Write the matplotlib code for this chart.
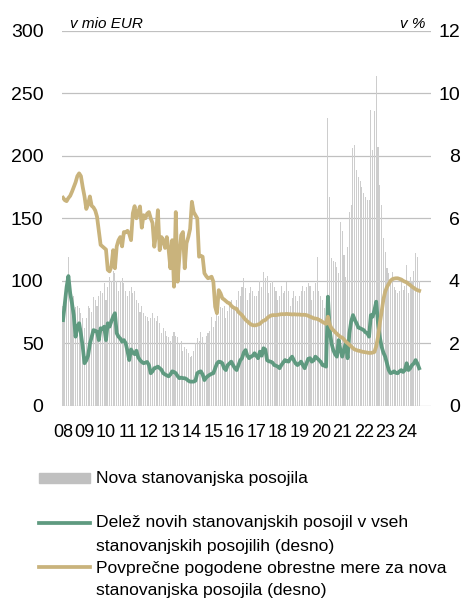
import numpy as np
import matplotlib.pyplot as plt
from matplotlib.lines import Line2D
from matplotlib.patches import Rectangle

plt.rcParams['font.family'] = ['Liberation Sans', 'DejaVu Sans']

# nova stanovanjska posojila, v mio EUR (mesečno, jan 2008 - avg 2024)
new_loans = [
    80, 85, 90, 119, 85, 82, 88, 79, 80, 78, 74, 70,      # 2008
    62, 70, 80, 78, 75, 87, 85, 80, 88, 92, 90, 98,       # 2009
    85, 95, 103, 100, 108, 106, 100, 92, 100, 102, 98, 92,  # 2010
    88, 92, 95, 90, 92, 85, 82, 75, 80, 74, 72, 71,       # 2011
    68, 70, 74, 70, 68, 72, 66, 58, 62, 60, 56, 55,       # 2012
    52, 56, 59, 56, 55, 50, 52, 44, 47, 45, 42, 39,       # 2013
    40, 44, 50, 54, 52, 59, 55, 50, 56, 58, 60, 71,       # 2014
    63, 68, 75, 72, 79, 78, 80, 70, 76, 82, 85, 80,       # 2015
    79, 85, 92, 88, 95, 102, 94, 85, 90, 95, 92, 88,      # 2016
    88, 92, 100, 95, 107, 102, 104, 90, 98, 100, 95, 92,  # 2017
    85, 88, 96, 90, 92, 99, 92, 80, 86, 92, 88, 84,       # 2018
    88, 92, 96, 92, 95, 98, 96, 85, 92, 98, 119, 92,      # 2019
    88, 85, 78, 80, 230, 167, 118, 116, 115, 111, 106, 147,   # 2020
    140, 121, 103, 127, 155, 161, 206, 209, 189, 183, 180, 175,  # 2021
    170, 167, 165, 165, 237, 205, 236, 264, 207, 177, 161, 134,  # 2022
    123, 110, 106, 101, 107, 95, 93, 90, 92, 99, 93, 96,  # 2023
    113, 90, 103, 100, 108, 122, 119, 100,                # 2024
]

# delež novih stanovanjskih posojil v vseh stanovanjskih posojilih, v %
share_new = [
    2.74, 3.28, 3.8, 4.15, 3.6, 3.28, 2.9, 2.21, 2.53, 2.64, 2.3, 1.89,
    1.36, 1.45, 1.6, 1.98, 2.2, 2.42, 2.4, 2.37, 2.1, 2.48, 2.45, 2.53,
    2.1, 2.64, 2.53, 2.7, 2.85, 2.96, 2.32, 2.21, 2.15, 2.05, 2.1, 2.0,
    1.75, 1.46, 1.8, 1.7, 1.65, 1.76, 1.55, 1.46, 1.4, 1.36, 1.38, 1.4,
    1.3, 1.04, 1.1, 1.2, 1.22, 1.25, 1.2, 1.15, 1.04, 1.0, 0.97, 0.94,
    1.0, 1.1, 1.08, 1.04, 0.95, 0.88, 0.9, 0.88, 0.88, 0.85, 0.8, 0.77,
    0.77, 0.77, 0.8, 1.04, 1.08, 1.1, 1.0, 0.82, 0.9, 0.95, 0.99, 1.02,
    1.04, 1.2, 1.35, 1.41, 1.4, 1.36, 1.2, 1.14, 1.3, 1.35, 1.41, 1.3,
    1.2, 1.14, 1.3, 1.45, 1.52, 1.7, 1.78, 1.6, 1.52, 1.57, 1.6, 1.68,
    1.6, 1.52, 1.73, 1.6, 1.84, 1.8, 1.46, 1.42, 1.41, 1.38, 1.3, 1.28,
    1.25, 1.2, 1.3, 1.38, 1.46, 1.43, 1.41, 1.5, 1.57, 1.45, 1.35, 1.3,
    1.35, 1.41, 1.3, 1.2, 1.35, 1.5, 1.52, 1.41, 1.45, 1.57, 1.52, 1.46,
    1.4, 1.3, 1.28, 1.25, 3.49, 2.42, 2.0, 1.78, 1.65, 1.57, 2.1, 1.78,
    1.57, 1.8, 2.0, 1.52, 2.32, 2.7, 2.9, 2.75, 2.64, 2.5, 2.48, 2.45,
    2.42, 2.35, 2.32, 2.21, 2.9, 2.85, 3.06, 3.33, 2.64, 2.2, 1.89, 1.7,
    1.57, 1.35, 1.14, 1.04, 1.06, 1.1, 1.05, 1.04, 1.1, 1.14, 1.08, 1.14,
    1.36, 1.14, 1.2, 1.3, 1.35, 1.46, 1.35, 1.2,
]

# povprečne pogodbene obrestne mere za nova stanovanjska posojila, v %
rate_new = [
    6.66, 6.58, 6.55, 6.65, 6.72, 6.85, 7.0, 7.15, 7.35, 7.44, 7.35, 7.0,
    6.7, 6.3, 6.45, 6.7, 6.4, 6.35, 6.25, 6.05, 5.6, 5.15, 5.1, 5.05,
    5.0, 4.35, 4.3, 4.45, 4.98, 4.4, 5.1, 5.3, 5.4, 5.1, 5.56, 5.55,
    5.6, 5.5, 5.3, 6.16, 6.39, 6.0, 6.2, 6.38, 5.7, 6.1, 6.0, 6.15,
    6.2, 6.0, 5.85, 5.09, 5.5, 6.26, 4.98, 5.4, 5.3, 5.05, 5.4, 5.0,
    4.4, 5.3, 3.81, 6.2, 3.97, 4.75, 5.46, 5.56, 4.4, 5.2, 5.4, 5.66,
    6.53, 6.2, 6.1, 6.0, 4.77, 4.8, 4.77, 4.24, 4.15, 4.08, 4.1, 4.13,
    3.97, 3.17, 2.96, 3.7, 3.6, 3.44, 3.4, 3.35, 3.3, 3.28, 3.2, 3.15,
    3.12, 3.1, 3.0, 2.95, 2.9, 2.82, 2.75, 2.7, 2.65, 2.6, 2.58, 2.57,
    2.58, 2.6, 2.62, 2.68, 2.72, 2.74, 2.8, 2.85, 2.88, 2.9, 2.9, 2.9,
    2.91, 2.92, 2.93, 2.93, 2.93, 2.94, 2.93, 2.93, 2.92, 2.93, 2.92, 2.92,
    2.92, 2.91, 2.91, 2.91, 2.9, 2.88, 2.85, 2.83, 2.8, 2.79, 2.78, 2.75,
    2.72, 2.68, 2.65, 2.62, 2.85, 2.6, 2.48, 2.42, 2.36, 2.3, 2.25, 2.2,
    2.18, 2.12, 2.05, 2.0, 1.95, 1.9, 1.84, 1.8, 1.78, 1.76, 1.75, 1.73,
    1.72, 1.71, 1.7, 1.69, 1.69, 1.7, 1.72, 1.9, 2.2, 2.64, 3.0, 3.4,
    3.65, 3.8, 3.9, 4.0, 4.05, 4.07, 4.08, 4.08, 4.06, 4.04, 4.0, 3.97,
    3.95, 3.9, 3.86, 3.81, 3.77, 3.73, 3.7, 3.68,
]

year_labels = ['08', '09', '10', '11', '12', '13', '14', '15', '16',
               '17', '18', '19', '20', '21', '22', '23', '24']

bar_color = '#cdcdcd'
green = '#5f9a80'
tan = '#c9b37c'

fig = plt.figure(figsize=(4.71, 6.01), dpi=100)
ax = fig.add_axes([0.1323, 0.325, 0.782, 0.6235])

x = np.arange(len(new_loans))
ax.bar(x, new_loans, width=0.6, color=bar_color, zorder=2)
ax.set_xlim(-0.4, 205.4)
ax.set_ylim(0, 300)
ax.set_yticks(range(0, 301, 50))
ax.yaxis.grid(True, color='#c0c0c0', lw=0.9)
ax.set_axisbelow(True)
for s in ax.spines.values():
    s.set_visible(False)
ax.set_xticks(np.arange(0, len(new_loans), 12))
ax.set_xticklabels(year_labels)
ax.tick_params(axis='x', length=0, labelsize=13, pad=13)
ax.tick_params(axis='y', length=0, labelsize=14, pad=13.5)

ax2 = ax.twinx()
ax2.plot(x, share_new, color=green, lw=2.7, solid_joinstyle='round')
ax2.plot(x, rate_new, color=tan, lw=2.7, solid_joinstyle='round')
ax2.set_ylim(0, 12)
ax2.set_yticks(range(0, 13, 2))
for s in ax2.spines.values():
    s.set_visible(False)
ax2.tick_params(axis='y', length=0, labelsize=14, pad=21)
for lab in ax2.get_yticklabels():
    lab.set_horizontalalignment('right')

ax.text(0.02, 1.0, 'v mio EUR', transform=ax.transAxes, fontsize=11,
        style='italic', va='bottom')
ax.text(0.985, 1.0, 'v %', transform=ax.transAxes, fontsize=11,
        style='italic', va='bottom', ha='right')

# legenda
W, H = 471, 601
def fx(px):
    return px / W
def fy(py):
    return 1 - py / H

fig.patches.append(Rectangle((fx(39), fy(483)), fx(51), 10 / H,
                             transform=fig.transFigure, color='#c0c0c0'))
fig.lines.append(Line2D([fx(39), fx(90)], [fy(523), fy(523)],
                        transform=fig.transFigure, color=green, lw=2.7))
fig.lines.append(Line2D([fx(39), fx(90)], [fy(567), fy(567)],
                        transform=fig.transFigure, color=tan, lw=2.7))

leg_fs = 12.6
fig.text(fx(96), fy(478), 'Nova stanovanjska posojila', fontsize=leg_fs, va='center')
fig.text(fx(96), fy(523), 'Delež novih stanovanjskih posojil v vseh', fontsize=leg_fs, va='center')
fig.text(fx(96), fy(546), 'stanovanjskih posojilih (desno)', fontsize=leg_fs, va='center')
fig.text(fx(96), fy(568), 'Povprečne pogodene obrestne mere za nova', fontsize=leg_fs, va='center')
fig.text(fx(96), fy(591), 'stanovanjska posojila (desno)', fontsize=leg_fs, va='center')

fig.savefig('out.png', dpi=100)
